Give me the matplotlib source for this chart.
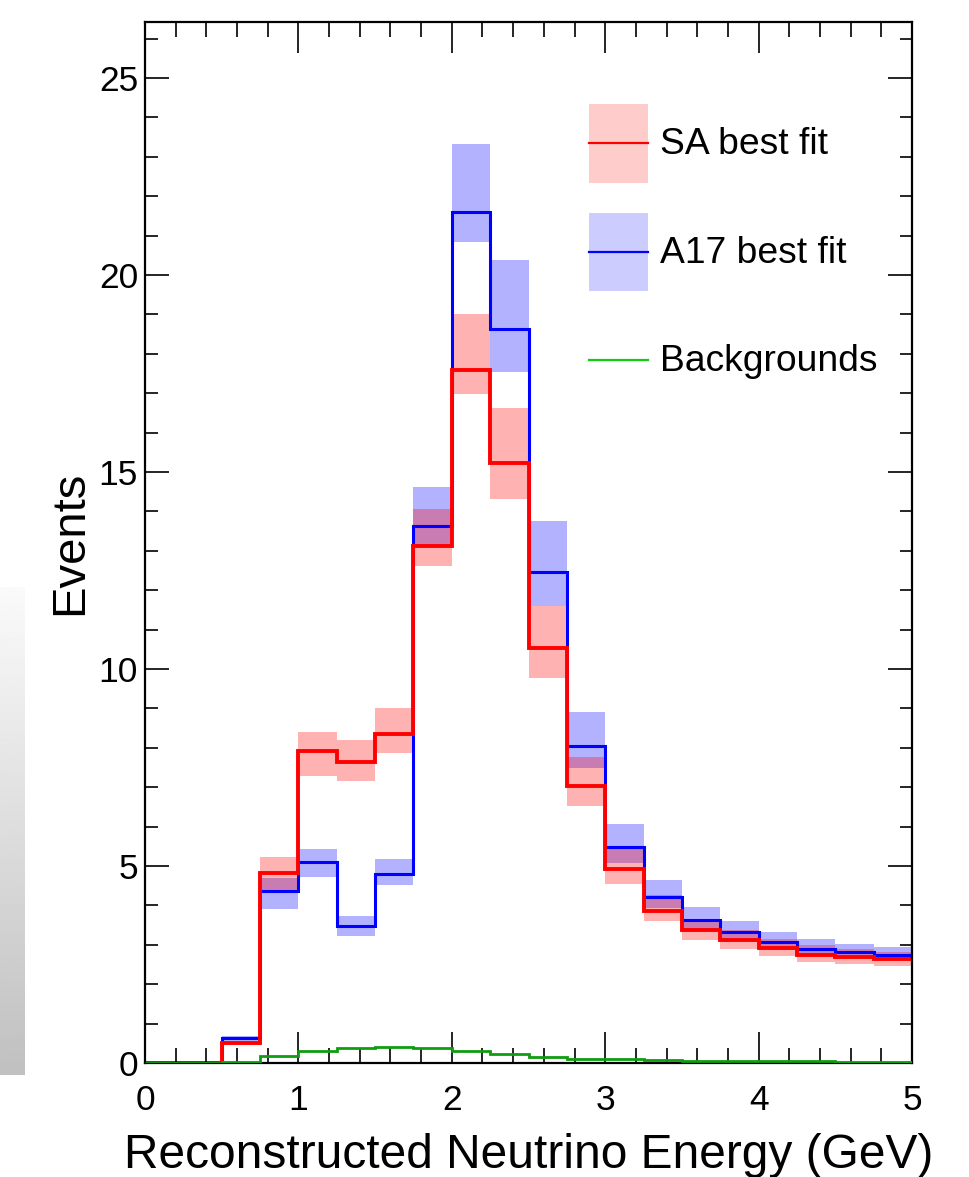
import numpy as np
import matplotlib
matplotlib.use('Agg')
import matplotlib.pyplot as plt
from matplotlib.patches import Patch
from matplotlib.lines import Line2D
from matplotlib.legend_handler import HandlerLine2D
from matplotlib.ticker import MultipleLocator

plt.rcParams['font.family'] = ['Liberation Sans', 'DejaVu Sans']

# bin edges in GeV (0.25 GeV bins)
bin_edges = [0.0, 0.25, 0.5, 0.75, 1.0, 1.25, 1.5, 1.75, 2.0, 2.25, 2.5,
             2.75, 3.0, 3.25, 3.5, 3.75, 4.0, 4.25, 4.5, 4.75, 5.0]

# SA best fit prediction and its band
sa_fit = [0, 0, 0.51, 4.82, 7.92, 7.64, 8.35, 13.12, 17.60, 15.23, 10.53,
          7.03, 4.92, 3.86, 3.38, 3.12, 2.92, 2.74, 2.69, 2.64]
sa_lo = [0, 0, 0.46, 4.34, 7.28, 7.16, 7.87, 12.61, 16.98, 14.31, 9.77,
         6.52, 4.54, 3.60, 3.12, 2.89, 2.72, 2.56, 2.51, 2.46]
sa_hi = [0, 0, 0.56, 5.23, 8.40, 8.20, 9.01, 14.06, 19.01, 16.62, 11.60,
         7.77, 5.43, 4.26, 3.60, 3.38, 3.15, 2.99, 2.89, 2.82]

# A17 best fit prediction and its band
a17_fit = [0, 0, 0.63, 4.37, 5.10, 3.48, 4.80, 13.63, 21.60, 18.63, 12.46,
           8.05, 5.48, 4.21, 3.63, 3.32, 3.07, 2.89, 2.82, 2.74]
a17_lo = [0, 0, 0.57, 3.91, 4.72, 3.22, 4.52, 13.15, 20.84, 17.54, 11.60,
          7.49, 5.08, 3.93, 3.38, 3.15, 2.90, 2.74, 2.68, 2.62]
a17_hi = [0, 0, 0.69, 4.70, 5.43, 3.73, 5.18, 14.62, 23.32, 20.38, 13.76,
          8.91, 6.07, 4.64, 3.96, 3.60, 3.32, 3.15, 3.02, 2.94]

# backgrounds
bkg = [0, 0, 0.02, 0.18, 0.30, 0.37, 0.41, 0.37, 0.30, 0.22, 0.15,
       0.11, 0.09, 0.07, 0.06, 0.05, 0.04, 0.04, 0.03, 0.03]


class CenteredLine(HandlerLine2D):
    # keep the legend line in the middle of a tall handle box
    def create_artists(self, legend, orig_handle, xdescent, ydescent,
                       width, height, fontsize, trans):
        arts = super().create_artists(legend, orig_handle, xdescent, ydescent,
                                      width, height, fontsize, trans)
        for a in arts:
            yd = np.asarray(a.get_ydata())
            a.set_ydata(np.full(yd.shape, height / 2 - ydescent))
        return arts


edges = np.array(bin_edges)
lefts = edges[:-1]
widths = np.diff(edges)

fig = plt.figure(figsize=(9.69, 11.77), dpi=100)
ax = fig.add_axes([145 / 969, 1 - 1063 / 1177, 767 / 969, 1041 / 1177])

# error bands
a17_lo_arr, a17_hi_arr = np.array(a17_lo), np.array(a17_hi)
sa_lo_arr, sa_hi_arr = np.array(sa_lo), np.array(sa_hi)
ax.bar(lefts, a17_hi_arr - a17_lo_arr, width=widths, bottom=a17_lo_arr,
       align='edge', color='blue', alpha=0.3, linewidth=0)
ax.bar(lefts, sa_hi_arr - sa_lo_arr, width=widths, bottom=sa_lo_arr,
       align='edge', color='red', alpha=0.3, linewidth=0)

# central histograms
ax.stairs(a17_fit, edges, baseline=None, color='blue', linewidth=2.2)
ax.stairs(sa_fit, edges, baseline=None, color='red', linewidth=2.8)
ax.stairs(bkg, edges, baseline=None, color='#109c10', linewidth=2.0, zorder=3)

ax.set_xlim(0, 5)
ax.set_ylim(0, 26.42)

ax.xaxis.set_major_locator(MultipleLocator(1))
ax.xaxis.set_minor_locator(MultipleLocator(0.2))
ax.yaxis.set_major_locator(MultipleLocator(5))
ax.yaxis.set_minor_locator(MultipleLocator(1))
ax.tick_params(which='both', direction='in', top=True, right=True, width=1.2)
ax.tick_params(axis='x', which='major', length=22, pad=15, labelsize=25.5)
ax.tick_params(axis='x', which='minor', length=11)
ax.tick_params(axis='y', which='major', length=17, pad=5, labelsize=25.5)
ax.tick_params(axis='y', which='minor', length=9)
for sp in ax.spines.values():
    sp.set_linewidth(1.6)

ax.set_xlabel('Reconstructed Neutrino Energy (GeV)', fontsize=34.5, labelpad=12)
ax.set_ylabel('Events', fontsize=34, labelpad=5)

handles = [
    (Patch(facecolor='red', alpha=0.2, linewidth=0), Line2D([], [], color='red', linewidth=1.6)),
    (Patch(facecolor='blue', alpha=0.2, linewidth=0), Line2D([], [], color='blue', linewidth=1.6)),
    Line2D([], [], color='#11cc11', linewidth=1.6),
]
labels = ['SA best fit', 'A17 best fit', 'Backgrounds']
ax.legend(handles, labels, loc='upper left', bbox_to_anchor=(0.579, 0.921),
          frameon=False, fontsize=26.8, borderpad=0, borderaxespad=0,
          handlelength=1.58, handleheight=2.86, handletextpad=0.32,
          labelspacing=0.81, handler_map={Line2D: CenteredLine()})

# grey side panel visible at the left edge of the screenshot
side = fig.add_axes([0, 1 - 1075 / 1177, 25 / 969, (1075 - 587) / 1177])
grad = np.linspace(250, 192, 200).reshape(-1, 1)
side.imshow(grad, cmap='gray', vmin=0, vmax=255, aspect='auto')
side.axis('off')

fig.savefig('out.png', dpi=100)
